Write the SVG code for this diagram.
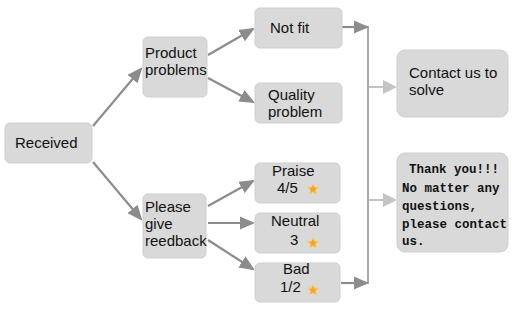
<svg xmlns="http://www.w3.org/2000/svg" width="521" height="313" viewBox="0 0 521 313">
<defs>
<style>
.box{fill:#d9d9d9;stroke:#cfcfcf;stroke-width:1}
.t{font-family:"Liberation Sans",Arial,sans-serif;font-size:15px;fill:#111}
.m{font-family:"Liberation Mono","Courier New",monospace;font-size:12.5px;font-weight:bold;fill:#111}
.c{fill:none;stroke:#8c8c8c;stroke-width:2.2}
.cl{fill:none;stroke:#c4c4c4;stroke-width:2}
</style>
<marker id="ah" markerWidth="7" markerHeight="6" refX="6" refY="3" orient="auto" markerUnits="strokeWidth"><path d="M0,0 L7,3 L0,6 Z" fill="#8c8c8c"/></marker>
<marker id="al" markerWidth="7" markerHeight="7" refX="6" refY="3.5" orient="auto" markerUnits="strokeWidth"><path d="M0,0 L7,3.5 L0,7 Z" fill="#c4c4c4"/></marker>
<symbol id="star" viewBox="-10 -10 20 20"><polygon points="0,-9 2.6,-3 9,-2.8 4,1.5 5.6,8.5 0,4.6 -5.6,8.5 -4,1.5 -9,-2.8 -2.6,-3" fill="#f4a52c" stroke="#f7d060" stroke-width="1.5"/></symbol>
</defs>
<rect width="521" height="313" fill="#fff"/>
<g id="connectors">
<line class="c" x1="93" y1="126" x2="141" y2="69" marker-end="url(#ah)"/>
<line class="c" x1="93" y1="162" x2="141" y2="219" marker-end="url(#ah)"/>
<line class="c" x1="208" y1="55" x2="253" y2="29" marker-end="url(#ah)"/>
<line class="c" x1="208" y1="78" x2="253" y2="102" marker-end="url(#ah)"/>
<line class="c" x1="208" y1="206" x2="253" y2="181" marker-end="url(#ah)"/>
<line class="c" x1="208" y1="223" x2="253" y2="223" marker-end="url(#ah)"/>
<line class="c" x1="208" y1="240" x2="253" y2="269" marker-end="url(#ah)"/>
<line class="c" x1="342" y1="27" x2="367" y2="27" marker-end="url(#ah)"/>
<line class="c" x1="341" y1="283" x2="367" y2="283" marker-end="url(#ah)"/>
<line x1="368" y1="26" x2="368" y2="284" stroke="#8c8c8c" stroke-width="1.5"/>
<line class="cl" x1="369" y1="87" x2="395" y2="87" marker-end="url(#al)"/>
<line class="cl" x1="369" y1="200" x2="395" y2="200" marker-end="url(#al)"/>
</g>
<g id="received"><rect class="box" x="5" y="123" width="87" height="40" rx="5"/><text class="t" x="15" y="148">Received</text></g>
<g id="product"><rect class="box" x="143" y="37" width="64" height="60" rx="5"/><text class="t" x="145" y="58">Product</text><text class="t" x="145" y="75">problems</text></g>
<g id="notfit"><rect class="box" x="255" y="8" width="87" height="40" rx="5"/><text class="t" x="270" y="33">Not fit</text></g>
<g id="quality"><rect class="box" x="255" y="83" width="87" height="40" rx="5"/><text class="t" x="268" y="100">Quality</text><text class="t" x="268" y="117">problem</text></g>
<g id="feedback"><rect class="box" x="143" y="194" width="63" height="64" rx="5"/><text class="t" x="145" y="212">Please</text><text class="t" x="145" y="229">give</text><text class="t" x="145" y="246">reedback</text></g>
<g id="praise"><rect class="box" x="255" y="163" width="85" height="40" rx="5"/><text class="t" x="272" y="176">Praise</text><text class="t" x="277" y="193">4/5</text><use href="#star" x="307" y="183" width="12" height="12"/></g>
<g id="neutral"><rect class="box" x="255" y="213" width="85" height="40" rx="5"/><text class="t" x="271" y="226">Neutral</text><text class="t" x="290" y="245">3</text><use href="#star" x="307" y="237" width="12" height="12"/></g>
<g id="bad"><rect class="box" x="255" y="263" width="85" height="39" rx="5"/><text class="t" x="283" y="274">Bad</text><text class="t" x="280" y="292">1/2</text><use href="#star" x="307" y="284" width="12" height="12"/></g>
<g id="contact"><rect class="box" x="397" y="50" width="111" height="67" rx="8"/><text class="t" x="409" y="78">Contact us to</text><text class="t" x="409" y="95">solve</text></g>
<g id="thanks"><rect class="box" x="397" y="153" width="111" height="99" rx="8"/><text class="m" x="409" y="173">Thank you!!!</text><text class="m" x="402" y="192">No matter any</text><text class="m" x="402" y="210">questions,</text><text class="m" x="402" y="228">please contact</text><text class="m" x="402" y="245">us.</text></g>
</svg>
